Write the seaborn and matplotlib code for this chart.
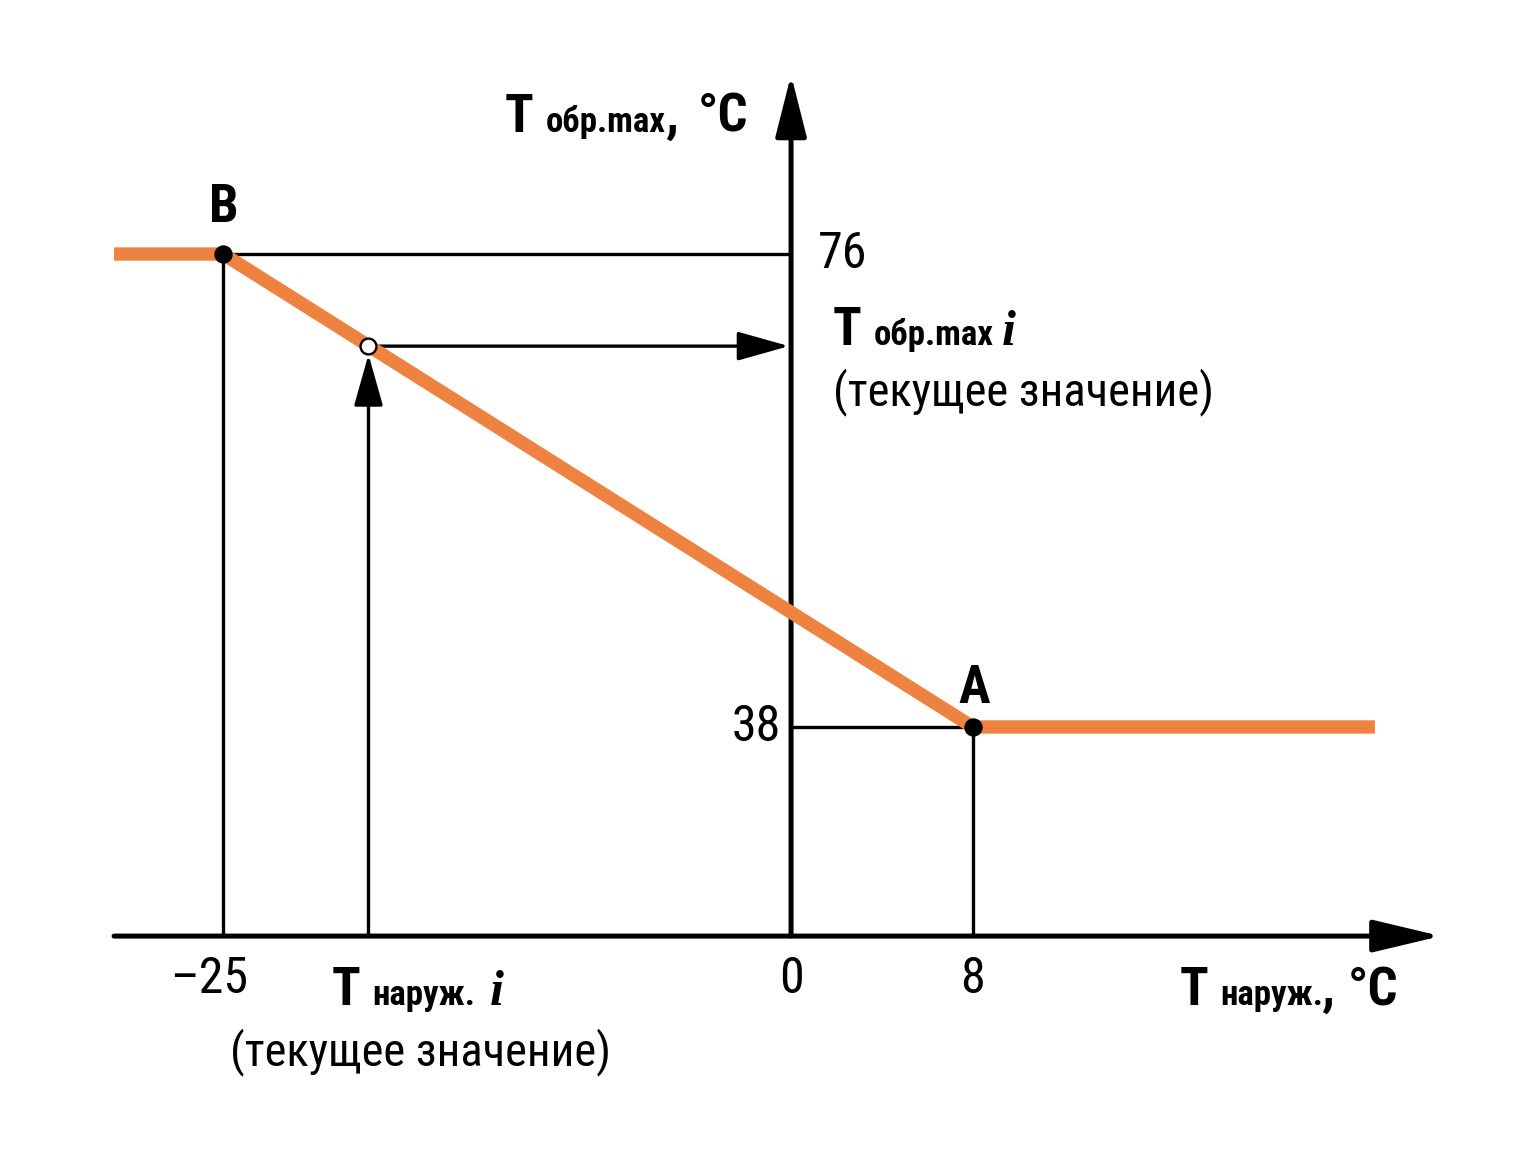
import os
import matplotlib
matplotlib.use("Agg")
import matplotlib.pyplot as plt
import seaborn as sns
from matplotlib import font_manager
from matplotlib.font_manager import FontProperties

# heating curve: return water max temperature vs outdoor temperature
curve_x = [-29.8, -25, 8, 25.7]
curve_y = [76, 76, 38, 38]

# break points of the curve
point_names = ["B", "A"]
point_x = [-25, 8]
point_y = [76, 38]

# current value on the sloped part
current_x = -18.6
current_y = 68.6

x_ticks = [-25, 0, 8]
x_tick_labels = ["\u201325", "0", "8"]
y_ticks = [76, 38]
y_tick_labels = ["76", "38"]

# the diagram is schematic: the horizontal axis is not drawn at y = 0
axis_floor = 21.2
x_axis_ends = [-29.8, 28.6]
y_axis_top = 90.4

ORANGE = "#EE8240"
W, H = 1536, 1157

sns.set_style("white")
plt.rcParams["text.color"] = "black"


def find_font(patterns):
    files = {os.path.basename(f.fname).lower(): f.fname for f in font_manager.fontManager.ttflist}
    for p in patterns:
        for base, path in files.items():
            if base.startswith(p):
                return path
    return None


reg_file = find_font(["robotocondensed-regular", "liberationsansnarrow-regular",
                      "dejavusanscondensed.", "notosans-condensed.", "opensans_condensed-regular"])
bold_file = find_font(["robotocondensed-bold.", "liberationsansnarrow-bold.",
                       "dejavusanscondensed-bold.", "notosans-condensedbold.", "opensans_condensed-bold."])
if reg_file and bold_file:
    k = 1.0
    fp_reg = lambda s: FontProperties(fname=reg_file, size=s * k)
    fp_bold = lambda s: FontProperties(fname=bold_file, size=s * k)
else:
    k = 0.82
    fp_reg = lambda s: FontProperties(family="Roboto", size=s * k)
    fp_bold = lambda s: FontProperties(family="Roboto", weight="bold", size=s * k)
fp_ital = FontProperties(family=["Liberation Serif", "DejaVu Serif"], weight="bold",
                         style="italic", size=36)

fig = plt.figure(figsize=(W / 100, H / 100), dpi=100)
ax = fig.add_axes([0, 0, 1, 1])
ax.set_xlim(-34.82, 32.79)
ax.set_ylim(3.45, 96.41)
ax.axis("off")

# axes with arrows
ax.annotate("", xy=(x_axis_ends[1], axis_floor), xytext=(x_axis_ends[0], axis_floor),
            arrowprops=dict(arrowstyle="-|>,head_length=2.1,head_width=0.5", mutation_scale=20,
                            lw=3.6, color="black", shrinkA=0, shrinkB=0))
ax.annotate("", xy=(0, y_axis_top), xytext=(0, axis_floor),
            arrowprops=dict(arrowstyle="-|>,head_length=1.9,head_width=0.48", mutation_scale=20,
                            lw=3.6, color="black", shrinkA=0, shrinkB=0))

# thin guide lines from the break points
thin = dict(color="black", lw=2.4, solid_capstyle="butt")
ax.plot([point_x[0], 0], [point_y[0], point_y[0]], **thin)
ax.plot([point_x[0], point_x[0]], [axis_floor, point_y[0]], **thin)
ax.plot([0, point_x[1]], [point_y[1], point_y[1]], **thin)
ax.plot([point_x[1], point_x[1]], [axis_floor, point_y[1]], **thin)

# arrows for the current value
small = dict(arrowstyle="-|>,head_length=1.6,head_width=0.45", mutation_scale=20,
             lw=2.4, color="black")
ax.annotate("", xy=(current_x, current_y), xytext=(current_x, axis_floor),
            arrowprops=dict(shrinkA=0, shrinkB=6, **small))
ax.annotate("", xy=(0, current_y), xytext=(current_x, current_y),
            arrowprops=dict(shrinkA=6, shrinkB=1.5, **small))

sns.lineplot(x=curve_x, y=curve_y, sort=False, estimator=None, color=ORANGE,
             lw=9.6, solid_capstyle="butt", ax=ax, zorder=3)
sns.scatterplot(x=point_x, y=point_y, color="black", s=175, linewidth=0, ax=ax, zorder=4)
sns.scatterplot(x=[current_x], y=[current_y], color="white", edgecolor="black",
                s=130, linewidth=1.7, ax=ax, zorder=4)

# tick values
for v, lab in zip(x_ticks, x_tick_labels):
    dx = -14 if v < 0 else 0
    ax.annotate(lab, (v, axis_floor), xytext=(dx, -19), textcoords="offset pixels",
                ha="center", va="top", fontproperties=fp_reg(36))
ax.annotate(y_tick_labels[0], (0, y_ticks[0]), xytext=(27, 0), textcoords="offset pixels",
            ha="left", va="center", fontproperties=fp_reg(36))
ax.annotate(y_tick_labels[1], (0, y_ticks[1]), xytext=(-10, 0), textcoords="offset pixels",
            ha="right", va="center", fontproperties=fp_reg(36))

# point names
for name, px_, py_, dy in zip(point_names, point_x, point_y, [32, 24]):
    ax.annotate(name, (px_, py_), xytext=(1, dy), textcoords="offset pixels",
                ha="center", va="baseline", fontproperties=fp_bold(38))


def rich(parts, x, y):
    """Text made of pieces with different fonts, x/y in picture pixels (top-left origin)."""
    renderer = fig.canvas.get_renderer()
    for text, fp, gap in parts:
        t = fig.text(x / W, 1 - y / H, text, ha="left", va="baseline", fontproperties=fp)
        x += t.get_window_extent(renderer).width + gap


big_b = fp_bold(38)
sub_b = fp_bold(25)
reg = fp_reg(33.5)

rich([("T", big_b, 12), ("обр.max", sub_b, -1), (",", big_b, 20), ("°C", big_b, 0)], 505, 132)
rich([("T", big_b, 12), ("обр.max", sub_b, 8), ("i", fp_ital, 0)], 833, 345)
rich([("(текущее значение)", reg, 0)], 833, 405)
rich([("T", big_b, 12), ("наруж.", sub_b, 14), ("i", fp_ital, 0)], 332, 1005)
rich([("(текущее значение)", reg, 0)], 230, 1065)
rich([("T", big_b, 12), ("наруж.", sub_b, -3), (",", big_b, 14), ("°C", big_b, 0)], 1180, 1005)

fig.savefig("out.png", dpi=100)
